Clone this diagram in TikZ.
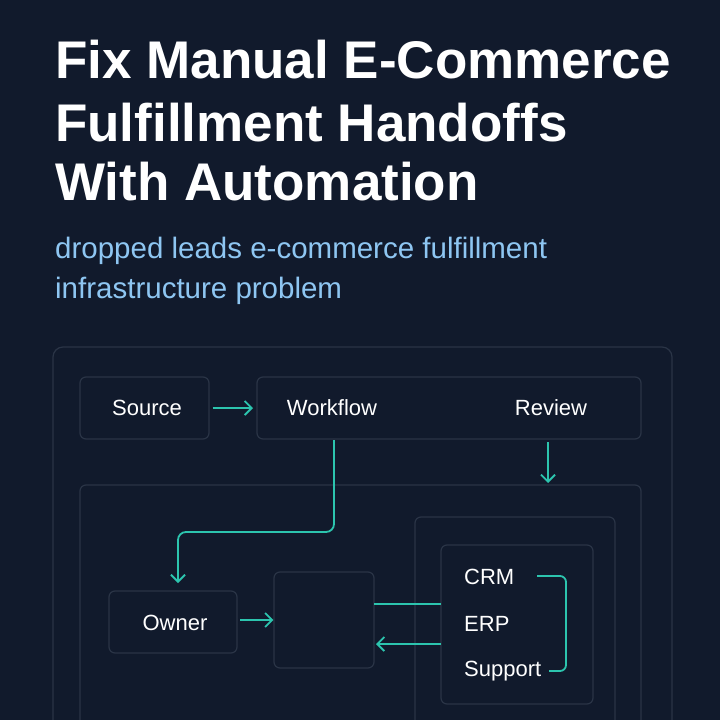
\documentclass[tikz,border=0pt]{standalone}
\usepackage{fontspec}
\setmainfont{Liberation Sans}
\usetikzlibrary{arrows.meta}
\definecolor{bg}{HTML}{111A2C}
\definecolor{edge}{HTML}{2A3446}
\definecolor{teal}{HTML}{2CC4AE}
\definecolor{sub}{HTML}{8EC6F2}
\begin{document}
\begin{tikzpicture}[x=1pt,y=-1pt,
  box/.style={draw=edge,line width=1.2pt,rounded corners=6pt},
  lbl/.style={text=white,font=\fontsize{22}{22}\selectfont,inner sep=0pt},
  conn/.style={draw=teal,line width=1.8pt,-{Straight Barb[length=7pt,width=14pt]}},
  plain/.style={draw=teal,line width=1.8pt}]
\fill[bg] (0,0) rectangle (720,720);
\useasboundingbox (0,0) rectangle (720,720);
\node[anchor=base west,inner sep=0pt,text=white,font=\bfseries\fontsize{53}{53}\selectfont] (t1) at (55,78) {Fix Manual E-Commerce};
\node[anchor=base west,inner sep=0pt,text=white,font=\bfseries\fontsize{53}{53}\selectfont] (t2) at (55,141) {Fulfillment Handoffs};
\node[anchor=base west,inner sep=0pt,text=white,font=\bfseries\fontsize{53}{53}\selectfont] (t3) at (55,200) {With Automation};
\node[anchor=base west,inner sep=0pt,text=sub,font=\fontsize{29.5}{29.5}\selectfont] (s1) at (55,258) {dropped leads e-commerce fulfillment};
\node[anchor=base west,inner sep=0pt,text=sub,font=\fontsize{29.5}{29.5}\selectfont] (s2) at (55,298) {infrastructure problem};
\draw[box,rounded corners=10pt] (53,347) rectangle (672,740);
\draw[box] (80,485) rectangle (641,740);
\draw[box] (415,517) rectangle (615,740);
\draw[box] (441,545) rectangle (593,704);
\node[box,minimum width=129,minimum height=62] (src) at (144.5,408) {};
\node[box,minimum width=384,minimum height=62] (wfb) at (449,408) {};
\node[box,minimum width=128,minimum height=62] (own) at (173,622) {};
\node[box,minimum width=100,minimum height=96] (mid) at (324,620) {};
\node[lbl] (srcl) at (147,408) {Source};
\node[lbl] (wf) at (332,408) {Workflow};
\node[lbl] (rev) at (551,408) {Review};
\node[lbl] at (175,623) {Owner};
\node[lbl,anchor=west] (crm) at (464,577) {CRM};
\node[lbl,anchor=west] (erp) at (464,624) {ERP};
\node[lbl,anchor=west] (sup) at (464,671) {Support};
\coordinate (revin) at (548,483);
\coordinate (ownin) at (178,583);
\coordinate (midr) at (374,604);
\coordinate (b4l) at (441,604);
\coordinate (b4l2) at (441,644);
\draw[conn] (src.east |- 0,408) ++(3,0) -- (253,408);
\draw[conn] (548,442) -- (revin);
\draw[conn,rounded corners=8pt] (334,440) -- (334,532) -- (178,532) -- (ownin);
\draw[conn] (240,620) -- (mid.west |- 0,620);
\draw[plain] (midr) -- (b4l);
\draw[conn] (b4l2) -- (376,644);
\draw[plain,rounded corners=6pt] (537,576) -- (566,576) -- (566,671) -- (549,671);
\end{tikzpicture}
\end{document}
